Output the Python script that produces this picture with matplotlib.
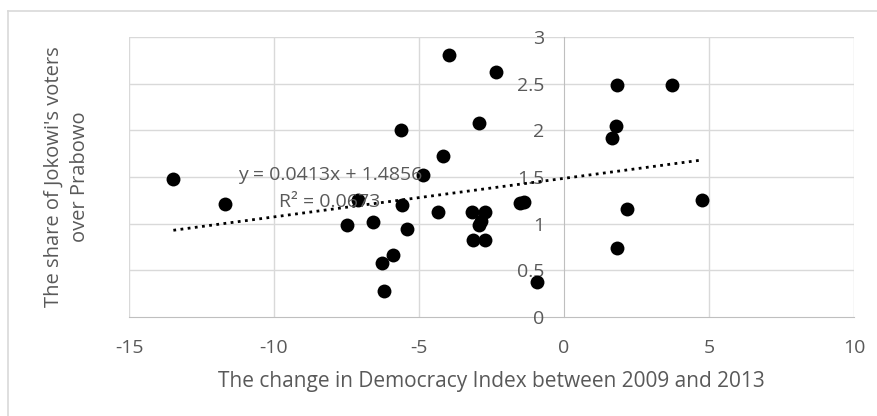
import numpy as np
import matplotlib
matplotlib.use('Agg')
import matplotlib.pyplot as plt
from matplotlib.lines import Line2D

plt.rcParams['font.family'] = ['Open Sans', 'DejaVu Sans']

# Data
democracy_change = [-13.47, -11.69, -7.49, -7.11, -6.60, -6.29, -6.20, -5.91, -5.63, -5.60,
                    -5.40, -4.87, -4.16, -3.98, -4.33, -3.17, -2.72, -3.15, -2.72, -2.92,
                    -2.93, -2.87, -2.34, -1.52, -1.38, -0.92, 1.84, 3.71, 1.78, 1.66,
                    2.16, 1.82, 4.77]
jokowi_share = [1.48, 1.21, 0.99, 1.25, 1.02, 0.575, 0.28, 0.66, 2.00, 1.20,
                0.94, 1.52, 1.73, 2.81, 1.12, 1.12, 1.12, 0.83, 0.83, 2.08,
                0.99, 1.03, 2.63, 1.22, 1.23, 0.37, 2.49, 2.49, 2.05, 1.92,
                1.16, 0.74, 1.25]
slope = 0.0413
intercept = 1.4856
r_squared = 0.0673

x_ticks = [-15, -10, -5, 0, 5, 10]
y_ticks = [0, 0.5, 1, 1.5, 2, 2.5, 3]

text_gray = '#595959'
grid_gray = '#d9d9d9'
axis_gray = '#bfbfbf'
fs = 14

fig = plt.figure(figsize=(8.77, 4.16), dpi=100)
ax = fig.add_axes([129/877, 1-317/416, (854-129)/877, (317-37)/416])

# Gridlines
for xv in x_ticks:
    if xv != 0:
        ax.axvline(xv, color=grid_gray, lw=1.0, zorder=0)
for yv in y_ticks:
    if yv != 0:
        ax.axhline(yv, color=grid_gray, lw=1.0, zorder=0)

ax.set_xlim(-15, 10)
ax.set_ylim(0, 3)

# Axes crossing at the origin, Excel style
for s in ['top', 'right']:
    ax.spines[s].set_visible(False)
ax.spines['left'].set_position(('data', 0))
ax.spines['bottom'].set_position(('data', 0))
ax.spines['left'].set_color(axis_gray)
ax.spines['bottom'].set_color(axis_gray)
ax.spines['left'].set_zorder(0.5)
ax.spines['bottom'].set_zorder(0.5)

ax.set_xticks(x_ticks)
ax.set_xticklabels([str(v) for v in x_ticks])
ax.set_yticks(y_ticks)
ax.set_yticklabels(['{:g}'.format(v) for v in y_ticks])
ax.tick_params(axis='x', length=0, pad=16, labelsize=fs, labelcolor=text_gray)
ax.tick_params(axis='y', length=0, pad=14, labelsize=fs, labelcolor=text_gray)

# Points
ax.plot(democracy_change, jokowi_share, 'o', color='black', markersize=10,
        markeredgewidth=0, zorder=3, clip_on=False)

# Linear trendline over the range of the data
xs = np.array([min(democracy_change), max(democracy_change)])
ax.plot(xs, slope*xs + intercept, color='black', lw=2.0,
        linestyle=(0, (1, 1.6)), zorder=4)

ax.text(-8.07, 1.52, f'y = {slope}x + {intercept}', ha='center', va='center',
        fontsize=fs, color=text_gray, zorder=5)
ax.text(-8.07, 1.23, f'R² = {r_squared}', ha='center', va='center',
        fontsize=fs, color=text_gray, zorder=5)

# Axis titles
fig.text(491/877, 1-382/416, 'The change in Democracy Index between 2009 and 2013',
         ha='center', va='center', fontsize=15, color=text_gray)
fig.text(67/877, 1-177/416, "The share of Jokowi's voters\nover Prabowo",
         ha='center', va='center', rotation=90, fontsize=14.5, color=text_gray,
         multialignment='center', linespacing=1.45)

# Chart border (only top and left edge fall inside the picture)
fig.add_artist(Line2D([8/877, 8/877], [0, 1-11/416], color=grid_gray, lw=1.2))
fig.add_artist(Line2D([8/877, 1], [1-11/416, 1-11/416], color=grid_gray, lw=1.2))

fig.savefig('out.png', dpi=100)
